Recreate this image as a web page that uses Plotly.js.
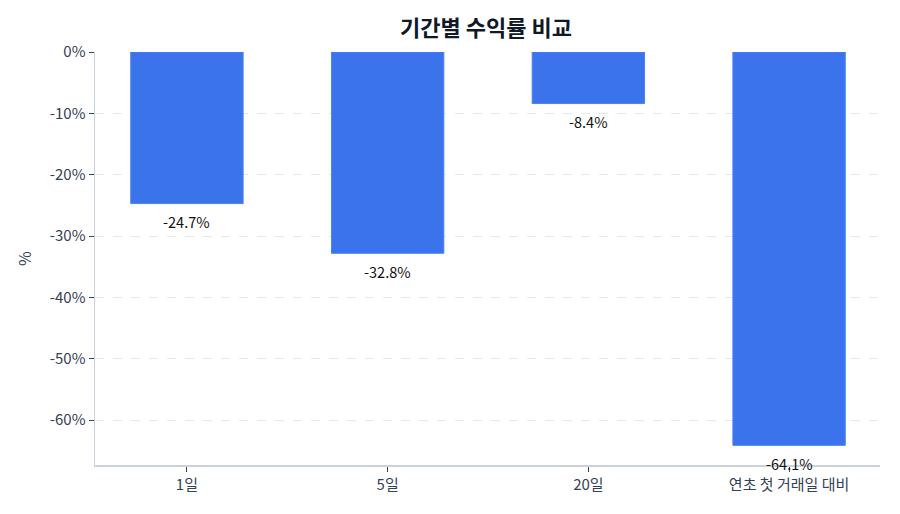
<!DOCTYPE html>
<html>
<head>
<meta charset="utf-8">
<script src="https://cdn.plot.ly/plotly-3.0.1.min.js"></script>
<style>
  html, body { margin: 0; padding: 0; background: #fff; }
  #chart { width: 900px; height: 514px; }
</style>
</head>
<body>
<div id="chart"></div>
<script>
"use strict";

const FONT = "'Noto Sans CJK KR', 'Noto Sans', sans-serif";

// Data
const periods = ["1일", "5일", "20일", "연초 첫 거래일 대비"];
const returns = [-24.7, -32.8, -8.4, -64.1];
const yTicks = [0, -10, -20, -30, -40, -50, -60];
const yTickText = ["0%", "-10%", "-20%", "-30%", "-40%", "-50%", "-60%"];

const xs = periods.map((_, i) => i);

const traces = [
  {
    type: "bar",
    x: xs,
    y: returns,
    width: 0.56,
    marker: { color: "#3b73ec", line: { color: "#4d82f0", width: 1 } },
    hoverinfo: "skip",
  },
];

// value labels under each bar end
const labels = returns.map((v, i) => ({
  x: xs[i],
  y: v,
  text: v.toFixed(1) + "%",
  showarrow: false,
  xanchor: "center",
  yanchor: "middle",
  yshift: -18,
  font: { family: FONT, size: 14.5, color: "#111" },
}));

const layout = {
  width: 900,
  height: 514,
  paper_bgcolor: "#fff",
  plot_bgcolor: "#fff",
  font: { family: FONT, size: 15, color: "#334155" },
  margin: { t: 52, r: 20, b: 49, l: 95 },
  showlegend: false,
  title: {
    text: "<b>기간별 수익률 비교</b>",
    x: 0.54,
    xanchor: "center",
    y: 0.945,
    yanchor: "middle",
    font: { family: FONT, size: 22, color: "#111827" },
  },
  xaxis: {
    range: [-0.458, 3.453],
    tickvals: xs,
    ticktext: periods,
    showgrid: false,
    zeroline: false,
    showline: true,
    linecolor: "#cbd2da",
    linewidth: 1.5,
    ticks: "outside",
    ticklen: 5,
    tickcolor: "#334155",
    tickfont: { family: FONT, size: 15, color: "#334155" },
  },
  yaxis: {
    range: [-67.3, 0],
    tickvals: yTicks,
    ticktext: yTickText,
    showgrid: true,
    gridcolor: "#e5e8ec",
    griddash: "dash",
    gridwidth: 1,
    zeroline: false,
    showline: true,
    linecolor: "#cbd2da",
    linewidth: 1.5,
    ticks: "outside",
    ticklen: 5,
    tickcolor: "#334155",
    tickfont: { family: FONT, size: 15, color: "#334155" },
    title: { text: "%", standoff: 14, font: { family: FONT, size: 16, color: "#334155" } },
  },
  annotations: labels,
};

Plotly.newPlot("chart", traces, layout, { displayModeBar: false, staticPlot: true });
</script>
</body>
</html>
